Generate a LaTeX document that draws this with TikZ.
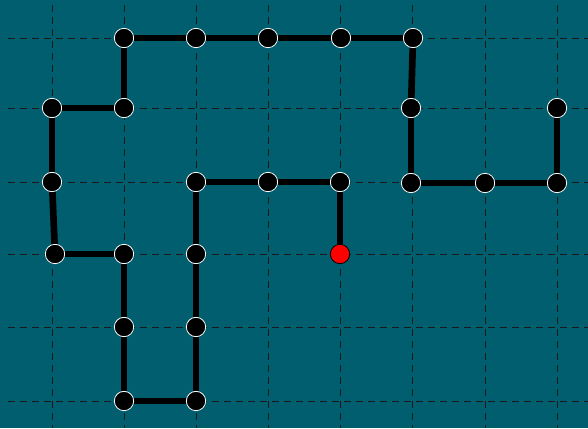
\documentclass[tikz,border=0pt]{standalone}
\usepackage{xcolor}
\usetikzlibrary{calc}
\definecolor{bgteal}{RGB}{0,94,110}

\begin{document}
\begin{tikzpicture}[x=0.75pt,y=-0.75pt,
  grid/.style={draw=black!90,dash pattern=on 5.5pt off 3.5pt,line width=0.6pt},
  site/.style={circle,draw=white,fill=black,minimum size=14.5pt,inner sep=0pt,line width=0.6pt},
  start/.style={site,draw=black,fill=red},
  bond/.style={line width=5pt}]
  \fill[bgteal] (0,0) rectangle (588,428);
  \useasboundingbox (0,0) rectangle (588,428);
  % lattice
  \foreach \gx in {52,124,196,268,340,412,485,557}
    \draw[grid] (\gx,5) -- (\gx,428);
  \foreach \gy in {38,108,182,254,327,401}
    \draw[grid] (8,\gy) -- (588,\gy);
  % walk sites
  \node[start] (p0) at (340,254) {};
  \node[site] (p1) at (340,182) {}; \node[site] (p2) at (268,182) {};
  \node[site] (p3) at (196,182) {}; \node[site] (p4) at (196,254) {};
  \node[site] (p5) at (196,327) {}; \node[site] (p6) at (196,401) {};
  \node[site] (p7) at (124,401) {}; \node[site] (p8) at (124,327) {};
  \node[site] (p9) at (124,254) {}; \node[site] (p10) at (55,254) {};
  \node[site] (p11) at (52,182) {}; \node[site] (p12) at (52,108) {};
  \node[site] (p13) at (124,108) {}; \node[site] (p14) at (124,38) {};
  \node[site] (p15) at (196,38) {}; \node[site] (p16) at (268,38) {};
  \node[site] (p17) at (341,38) {}; \node[site] (p18) at (413,38) {};
  \node[site] (p19) at (411,108) {}; \node[site] (p20) at (411,183) {};
  \node[site] (p21) at (485,183) {}; \node[site] (p22) at (557,183) {};
  \node[site] (p23) at (557,108) {};
  % bonds
  \draw[bond] (p0) -- (p1); \draw[bond] (p1) -- (p2); \draw[bond] (p2) -- (p3);
  \draw[bond] (p3) -- (p4); \draw[bond] (p4) -- (p5); \draw[bond] (p5) -- (p6);
  \draw[bond] (p6) -- (p7); \draw[bond] (p7) -- (p8); \draw[bond] (p8) -- (p9);
  \draw[bond] (p9) -- (p10); \draw[bond] (p10) -- (p11); \draw[bond] (p11) -- (p12);
  \draw[bond] (p12) -- (p13); \draw[bond] (p13) -- (p14); \draw[bond] (p14) -- (p15);
  \draw[bond] (p15) -- (p16); \draw[bond] (p16) -- (p17); \draw[bond] (p17) -- (p18);
  \draw[bond] (p18) -- (p19); \draw[bond] (p19) -- (p20); \draw[bond] (p20) -- (p21);
  \draw[bond] (p21) -- (p22); \draw[bond] (p22) -- (p23);
\end{tikzpicture}
\end{document}
